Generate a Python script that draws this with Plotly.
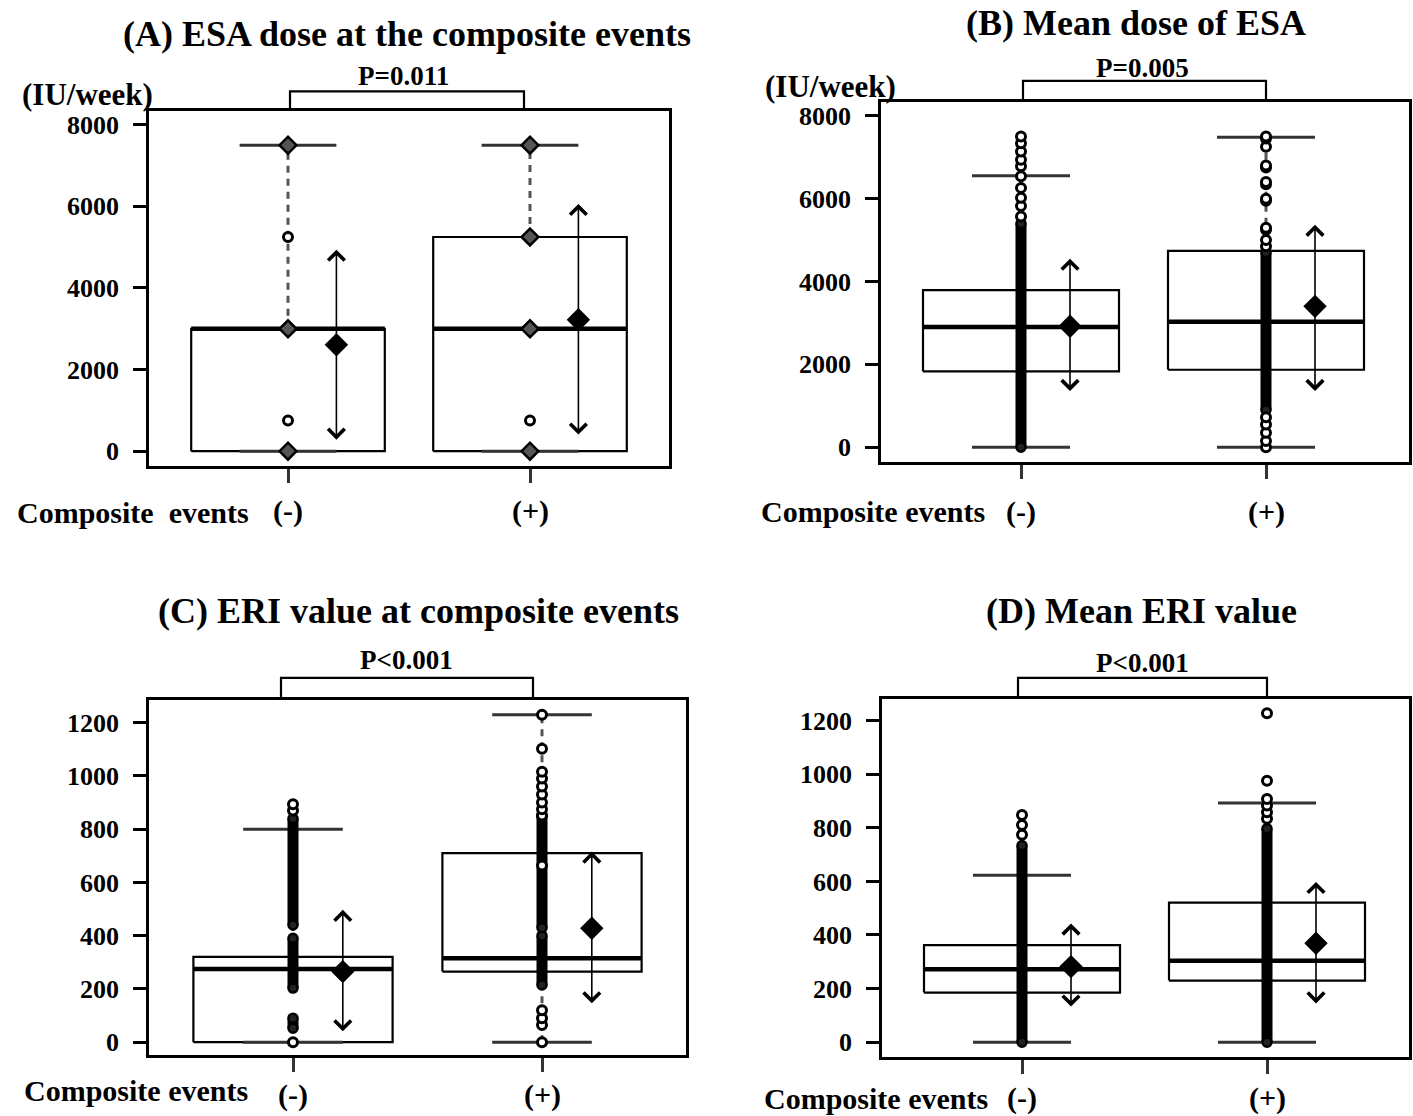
import plotly.graph_objects as go

W, H = 1413, 1116
FONT = "Liberation Serif"

groups = ["(-)", "(+)"]
group_x = [1, 2]
x_label_A = "Composite\u00a0\u00a0events"
x_label = "Composite events"

# ---------------- Panel A : ESA dose at the composite events (IU/week)
A_title = "(A) ESA dose at the composite events"
A_p = "P=0.011"
A_unit = "(IU/week)"
A_yticks = [0, 2000, 4000, 6000, 8000]
A_q1 = [0, 0]
A_median = [3000, 3000]
A_q3 = [3000, 5250]
A_whisker_lo = [0, 0]
A_whisker_hi = [7500, 7500]
A_mean = [2610, 3220]
A_sd_lo = [245, 370]
A_sd_hi = [4940, 6060]
A_points_stacked = [[0, 3000, 7500], [0, 3000, 5250, 7500]]
A_points = [[750, 5250], [750]]
A_dense = [[], []]

# ---------------- Panel B : Mean dose of ESA (IU/week)
B_title = "(B) Mean dose of ESA"
B_p = "P=0.005"
B_unit = "(IU/week)"
B_yticks = [0, 2000, 4000, 6000, 8000]
B_q1 = [1830, 1870]
B_median = [2900, 3030]
B_q3 = [3790, 4740]
B_whisker_lo = [0, 0]
B_whisker_hi = [6550, 7480]
B_mean = [2920, 3400]
B_sd_lo = [1320, 1320]
B_sd_hi = [4550, 5370]
B_points_stacked = [[], []]
B_points = [[5570, 5820, 6020, 6260, 6540, 6780, 6940, 7140, 7340, 7500],
            [0, 150, 350, 550, 720, 4850, 5000, 5250, 5300, 5950, 6000,
             6350, 6400, 6750, 6800, 7250, 7450, 7500]]
B_dense = [[(0, 5400)], [(900, 4700)]]

# ---------------- Panel C : ERI value at composite events
C_title = "(C) ERI value at composite events"
C_p = "P<0.001"
C_unit = ""
C_yticks = [0, 200, 400, 600, 800, 1000, 1200]
C_q1 = [0, 265]
C_median = [275, 315]
C_q3 = [320, 710]
C_whisker_lo = [0, 0]
C_whisker_hi = [800, 1230]
C_mean = [265, 428]
C_sd_lo = [35, 140]
C_sd_hi = [497, 716]
C_points_stacked = [[], []]
C_points = [[0, 870, 894],
            [0, 64, 90, 120, 664, 851, 875, 900, 930, 960, 990, 1016, 1102, 1230]]
C_dense = [[(52, 90), (203, 390), (440, 840)], [(215, 400), (430, 850)]]

# ---------------- Panel D : Mean ERI value
D_title = "(D) Mean ERI value"
D_p = "P<0.001"
D_unit = ""
D_yticks = [0, 200, 400, 600, 800, 1000, 1200]
D_q1 = [185, 230]
D_median = [272, 304]
D_q3 = [362, 521]
D_whisker_lo = [0, 0]
D_whisker_hi = [623, 893]
D_mean = [282, 369]
D_sd_lo = [127, 139]
D_sd_hi = [443, 598]
D_points_stacked = [[], []]
D_points = [[774, 811, 848], [834, 858, 883, 908, 976, 1228]]
D_dense = [[(0, 734)], [(0, 797)]]

# ---------------- layout in pixels (frame l,t,r,b ; group centres ; px of first/last tick)
panels = [
    dict(title=A_title, p=A_p, unit=A_unit, yt=A_yticks, q1=A_q1, med=A_median, q3=A_q3,
         wlo=A_whisker_lo, whi=A_whisker_hi, mean=A_mean, sdlo=A_sd_lo, sdhi=A_sd_hi,
         stacked=A_points_stacked, pts=A_points, dense=A_dense, xlab=x_label_A,
         frame=(149, 111, 669, 467), gx=(288, 530), ty=(452, 125),
         title_xy=(407, 34), p_xy=(403, 76), br=(290, 524, 91.5, 111), unit_xy=(87, 95),
         xl_xy=(133, 513), gl_y=512),
    dict(title=B_title, p=B_p, unit=B_unit, yt=B_yticks, q1=B_q1, med=B_median, q3=B_q3,
         wlo=B_whisker_lo, whi=B_whisker_hi, mean=B_mean, sdlo=B_sd_lo, sdhi=B_sd_hi,
         stacked=B_points_stacked, pts=B_points, dense=B_dense, xlab=x_label,
         frame=(881, 102, 1409, 463), gx=(1021, 1266), ty=(448, 116),
         title_xy=(1136, 23), p_xy=(1142, 68), br=(1023, 1266, 81, 102), unit_xy=(830, 87),
         xl_xy=(873, 512), gl_y=513),
    dict(title=C_title, p=C_p, unit=C_unit, yt=C_yticks, q1=C_q1, med=C_median, q3=C_q3,
         wlo=C_whisker_lo, whi=C_whisker_hi, mean=C_mean, sdlo=C_sd_lo, sdhi=C_sd_hi,
         stacked=C_points_stacked, pts=C_points, dense=C_dense, xlab=x_label,
         frame=(149, 701, 686, 1057), gx=(293, 542), ty=(1044, 724),
         title_xy=(418, 612), p_xy=(407, 661), br=(281, 533, 679, 701), unit_xy=None,
         xl_xy=(136, 1092), gl_y=1097),
    dict(title=D_title, p=D_p, unit=D_unit, yt=D_yticks, q1=D_q1, med=D_median, q3=D_q3,
         wlo=D_whisker_lo, whi=D_whisker_hi, mean=D_mean, sdlo=D_sd_lo, sdhi=D_sd_hi,
         stacked=D_points_stacked, pts=D_points, dense=D_dense, xlab=x_label,
         frame=(882, 700, 1409, 1059), gx=(1022, 1267), ty=(1044, 722),
         title_xy=(1141, 612), p_xy=(1142, 664), br=(1018, 1267, 679, 700), unit_xy=None,
         xl_xy=(876, 1100), gl_y=1100),
]

BOX_HW = 0.4
CAP_HW = 0.2
MEAN_DX = 0.2


def px(x):
    return x / W


def py(y):
    return 1 - y / H


fig = go.Figure()
layout = dict(width=W, height=H, margin=dict(l=0, r=0, t=0, b=0), autosize=False,
              paper_bgcolor="white", plot_bgcolor="white", showlegend=False)
annotations = []
shapes = []

for i, P in enumerate(panels):
    n = "" if i == 0 else str(i + 1)
    xa, ya = "x" + n, "y" + n
    fl, ft, fr, fb = P["frame"]
    g1, g2 = P["gx"]
    t0, t1 = P["ty"]
    yt = P["yt"]
    ysc = (t0 - t1) / (yt[-1] - yt[0])
    yrange = [yt[0] - (fb - t0) / ysc, yt[-1] + (t1 - ft) / ysc]
    xsc = g2 - g1
    xrange = [1 - (g1 - fl) / xsc, 2 + (fr - g2) / xsc]

    axis_common = dict(showline=True, mirror=True, linecolor="black", linewidth=2.6,
                       showgrid=False, zeroline=False, ticks="outside", tickcolor="black",
                       tickwidth=2.5)
    layout["xaxis" + n] = dict(axis_common, domain=[px(fl), px(fr)], range=xrange,
                               tickvals=group_x, showticklabels=False, ticklen=14,
                               tickcolor="#333", anchor=ya, fixedrange=True)
    layout["yaxis" + n] = dict(axis_common, domain=[py(fb), py(ft)], range=yrange,
                               tickvals=yt, ticktext=[str(v) for v in yt], ticklen=13,
                               ticklabelstandoff=9, anchor=xa, fixedrange=True,
                               tickfont=dict(family=FONT, size=26, color="black", weight="bold"))

    # boxes
    bx, by = [], []
    for g, lo, hi in zip(group_x, P["q1"], P["q3"]):
        bx += [g - BOX_HW, g + BOX_HW, g + BOX_HW, g - BOX_HW, g - BOX_HW, None]
        by += [lo, lo, hi, hi, lo, None]
    fig.add_trace(go.Scatter(x=bx, y=by, mode="lines", xaxis=xa, yaxis=ya,
                             line=dict(color="black", width=2.2), hoverinfo="skip"))
    # medians
    mx, my = [], []
    for g, m in zip(group_x, P["med"]):
        mx += [g - BOX_HW, g + BOX_HW, None]
        my += [m, m, None]
    fig.add_trace(go.Scatter(x=mx, y=my, mode="lines", xaxis=xa, yaxis=ya,
                             line=dict(color="black", width=4.5), hoverinfo="skip"))
    # whiskers (dashed)
    wx, wy = [], []
    for g, lo, q1, q3, hi in zip(group_x, P["wlo"], P["q1"], P["q3"], P["whi"]):
        if hi > q3:
            wx += [g, g, None]
            wy += [q3, hi, None]
        if q1 > lo:
            wx += [g, g, None]
            wy += [lo, q1, None]
    fig.add_trace(go.Scatter(x=wx, y=wy, mode="lines", xaxis=xa, yaxis=ya,
                             line=dict(color="#555", width=3, dash="7px,6px"), hoverinfo="skip"))
    # caps
    cx, cy = [], []
    for g, lo, hi in zip(group_x, P["wlo"], P["whi"]):
        cx += [g - CAP_HW, g + CAP_HW, None, g - CAP_HW, g + CAP_HW, None]
        cy += [lo, lo, None, hi, hi, None]
    fig.add_trace(go.Scatter(x=cx, y=cy, mode="lines", xaxis=xa, yaxis=ya,
                             line=dict(color="#333", width=3), hoverinfo="skip"))
    # dense columns of points
    dx, dy, ex, ey = [], [], [], []
    for g, bands in zip(group_x, P["dense"]):
        for lo, hi in bands:
            dx += [g, g, None]
            dy += [lo, hi, None]
            ex += [g, g]
            ey += [lo, hi]
    if dx:
        fig.add_trace(go.Scatter(x=dx, y=dy, mode="lines", xaxis=xa, yaxis=ya,
                                 line=dict(color="black", width=11), hoverinfo="skip"))
        fig.add_trace(go.Scatter(x=ex, y=ey, mode="markers", xaxis=xa, yaxis=ya,
                                 marker=dict(symbol="circle", size=9, color="#222",
                                             line=dict(color="black", width=2.5)),
                                 hoverinfo="skip"))
    # stacked (many coincident) points
    sx, sy = [], []
    for g, vals in zip(group_x, P["stacked"]):
        sx += [g] * len(vals)
        sy += vals
    if sx:
        fig.add_trace(go.Scatter(x=sx, y=sy, mode="markers", xaxis=xa, yaxis=ya,
                                 marker=dict(symbol="diamond", size=13, color="#555",
                                             line=dict(color="black", width=2.5)),
                                 hoverinfo="skip"))
    # individual points
    ox, oy = [], []
    for g, vals in zip(group_x, P["pts"]):
        ox += [g] * len(vals)
        oy += vals
    fig.add_trace(go.Scatter(x=ox, y=oy, mode="markers", xaxis=xa, yaxis=ya,
                             marker=dict(symbol="circle", size=9, color="white",
                                         line=dict(color="black", width=3)),
                             hoverinfo="skip"))
    # means
    fig.add_trace(go.Scatter(x=[g + MEAN_DX for g in group_x], y=P["mean"], mode="markers",
                             xaxis=xa, yaxis=ya,
                             marker=dict(symbol="diamond", size=18, color="black"),
                             hoverinfo="skip"))
    # SD arrows
    for g, lo, hi in zip(group_x, P["sdlo"], P["sdhi"]):
        annotations.append(dict(x=g + MEAN_DX, y=hi, ax=g + MEAN_DX, ay=lo,
                                xref=xa, yref=ya, axref=xa, ayref=ya, text="",
                                showarrow=True, arrowside="end+start", arrowhead=4,
                                startarrowhead=4, arrowsize=2.0, startarrowsize=2.0,
                                arrowwidth=1.6, arrowcolor="black"))

    # texts
    tx, ty_ = P["title_xy"]
    annotations.append(dict(x=px(tx), y=py(ty_), xref="paper", yref="paper", text=P["title"],
                            showarrow=False, xanchor="center", yanchor="middle",
                            font=dict(family=FONT, size=36, color="black", weight="bold")))
    ppx, ppy = P["p_xy"]
    annotations.append(dict(x=px(ppx), y=py(ppy), xref="paper", yref="paper", text=P["p"],
                            showarrow=False, xanchor="center", yanchor="middle",
                            font=dict(family=FONT, size=27, color="black", weight="bold")))
    if P["unit"] and P["unit_xy"]:
        ux, uy = P["unit_xy"]
        annotations.append(dict(x=px(ux), y=py(uy), xref="paper", yref="paper", text=P["unit"],
                                showarrow=False, xanchor="center", yanchor="middle",
                                font=dict(family=FONT, size=31, color="black", weight="bold")))
    lx, ly = P["xl_xy"]
    annotations.append(dict(x=px(lx), y=py(ly), xref="paper", yref="paper", text=P["xlab"],
                            showarrow=False, xanchor="center", yanchor="middle",
                            font=dict(family=FONT, size=30, color="black", weight="bold")))
    for gpx, lab in zip(P["gx"], groups):
        annotations.append(dict(x=px(gpx), y=py(P["gl_y"]), xref="paper", yref="paper",
                                text=lab, showarrow=False, xanchor="center", yanchor="middle",
                                font=dict(family=FONT, size=30, color="black", weight="bold")))
    # significance bracket
    b1, b2, btop, bbot = P["br"]
    shapes.append(dict(type="path", xref="paper", yref="paper",
                       path=f"M {px(b1)},{py(bbot)} L {px(b1)},{py(btop)} "
                            f"L {px(b2)},{py(btop)} L {px(b2)},{py(bbot)}",
                       line=dict(color="black", width=2.2)))

layout["annotations"] = annotations
layout["shapes"] = shapes
fig.update_layout(**layout)
fig.write_html("out.html", config={"displayModeBar": False},
               post_script="document.body.style.margin='0';document.body.style.padding='0';"
                           "document.documentElement.style.overflow='hidden';")
